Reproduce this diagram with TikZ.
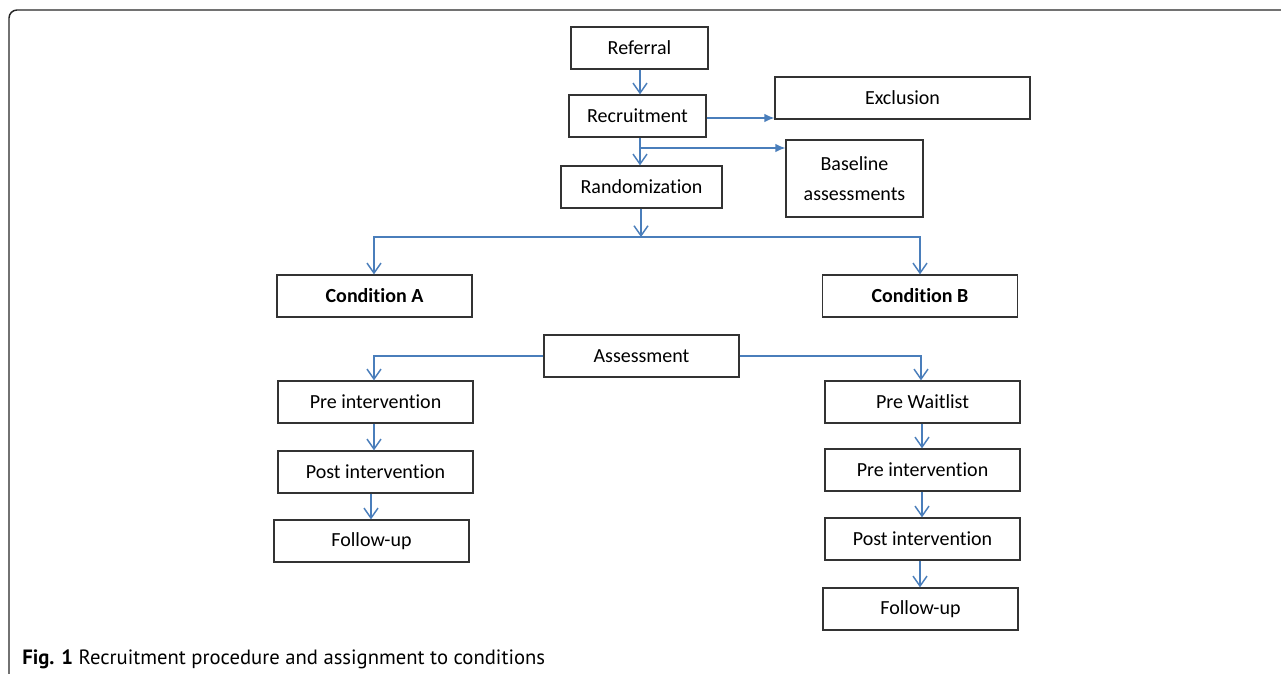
\documentclass[tikz,border=0pt]{standalone}
\usepackage{fontspec}
\setmainfont{Carlito}[Ligatures=NoCommon]
\newfontfamily\capfont{PT Sans}
\usetikzlibrary{arrows.meta,calc}
\definecolor{flowblue}{HTML}{4A7EBB}
\definecolor{boxline}{HTML}{333333}
\tikzset{
  x=0.75pt, y=-0.75pt,
  box/.style={draw=boxline, line width=0.95pt, inner sep=0pt, minimum height=31.5pt,
    minimum width=146.25pt, align=center, font=\fontsize{15pt}{18pt}\selectfont},
  varr/.style={draw=flowblue, line width=1.1pt, -{Straight Barb[length=7.5pt,width=10.5pt,line width=1.1pt]}},
  harr/.style={draw=flowblue, line width=1.1pt, -{Latex[length=7.5pt,width=6.5pt]}},
  conn/.style={draw=flowblue, line width=1.1pt},
}
\begin{document}
\begin{tikzpicture}
\useasboundingbox (0,0) rectangle (1281,674);
% frame
\draw[line width=1.1pt, black!85] (9,680) -- (9,18) arc[start angle=180,end angle=270,radius=8] -- (1290,10);
% nodes
\node[box, minimum width=102.75pt] (ref) at (639.5,48) {Referral};
\node[box, minimum width=102.75pt] (rec) at (637.5,116) {Recruitment};
\node[box, minimum width=191.25pt] (exc) at (902.5,98) {Exclusion};
\node[box, minimum width=102.75pt, minimum height=57.75pt] (base) at (854.5,178.5) {Baseline\\[4pt]assessments};
\node[box, minimum width=120.75pt] (rand) at (641.5,187) {Randomization};
\node[box] (ca) at (374.5,296) {\textbf{Condition A}};
\node[box] (cb) at (920,296) {\textbf{Condition B}};
\node[box] (ass) at (641.5,356) {Assessment};
\node[box] (preL) at (375.5,402) {Pre intervention};
\node[box] (postL) at (375.5,472) {Post intervention};
\node[box] (fuL) at (371.5,541) {Follow-up};
\node[box] (preW) at (922.5,402) {Pre Waitlist};
\node[box] (preR) at (922.5,470) {Pre intervention};
\node[box] (postR) at (922.5,539) {Post intervention};
\node[box] (fuR) at (920.5,609) {Follow-up};
% helper coordinates
\coordinate (br) at (640,148);
\coordinate (bar) at (641,237);
% connectors
\draw[varr] (ref.south -| 640,0) -- (rec.north -| 640,0);
\draw[harr] ([yshift=-1.5pt]rec.east) -- ([yshift=-1.5pt]rec.east -| exc.west);
\draw[varr] (rec.south -| br) -- (rand.north -| br);
\draw[harr] (br) -- (br -| base.west);
\draw[varr] (rand.south -| bar) -- (bar);
\draw[conn] (bar -| 373,0) -- (bar -| 921,0);
\draw[varr] (bar -| 374,0) -- (ca.north -| 374,0);
\draw[varr] (bar -| 920,0) -- (cb.north -| 920,0);
\draw[varr] (ass.west) -| (preL.north -| 374,0);
\draw[varr] (ass.east) -| (preW.north -| 921,0);
\draw[varr] (preL.south -| 374,0) -- (postL.north -| 374,0);
\draw[varr] (postL.south -| 371,0) -- (fuL.north -| 371,0);
\draw[varr] (preW.south -| 922,0) -- (preR.north -| 922,0);
\draw[varr] (preR.south -| 922,0) -- (postR.north -| 922,0);
\draw[varr] (postR.south -| 920,0) -- (fuR.north -| 920,0);
% caption
\node[anchor=base west, inner sep=0pt, font=\capfont\fontsize{15.5pt}{18pt}\selectfont] (cap) at (22,664)
  {\textbf{Fig. 1} Recruitment procedure and assignment to conditions};
\end{tikzpicture}
\end{document}
